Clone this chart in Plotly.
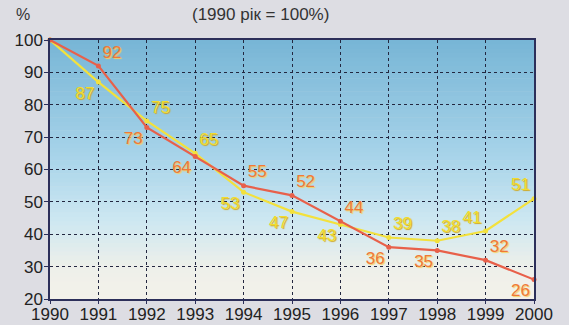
import plotly.graph_objects as go

years = list(range(1990, 2001))
series_a = [100, 92, 73, 64, 55, 52, 44, 36, 35, 32, 26]
series_b = [100, 87, 75, 65, 53, 47, 43, 39, 38, 41, 51]
y_ticks = [20, 30, 40, 50, 60, 70, 80, 90, 100]
title_text = "(1990 рік = 100%)"
unit_text = "%"

pos_a = ["top right", "top right", "bottom left", "bottom left", "top right", "top right",
         "top right", "bottom left", "bottom left", "top right", "bottom left"]
pos_b = ["bottom left", "bottom left", "top right", "top right", "bottom left", "bottom left",
         "bottom left", "top right", "top right", "top left", "top left"]

labels_a = [""] + [str(v) for v in series_a[1:]]
labels_b = [""] + [str(v) for v in series_b[1:]]

fig = go.Figure()

# gradient background bands
stops = [(0.0, (244, 242, 234)), (0.12, (238, 240, 234)), (0.3, (206, 232, 242)),
         (0.55, (168, 212, 234)), (1.0, (120, 182, 214))]
n = 60
for i in range(n):
    t = (i + 0.5) / n
    for s in range(len(stops) - 1):
        if stops[s][0] <= t <= stops[s + 1][0]:
            k = (t - stops[s][0]) / (stops[s + 1][0] - stops[s][0])
            c = tuple(int(stops[s][1][j] + (stops[s + 1][1][j] - stops[s][1][j]) * k) for j in range(3))
            break
    fig.add_shape(type="rect", xref="x domain", yref="y domain",
                  x0=0, x1=1, y0=i / n, y1=(i + 1) / n + 0.002,
                  fillcolor="rgb(%d,%d,%d)" % c, line_width=0, layer="below")

fig.add_trace(go.Scatter(
    x=years, y=series_b, mode="lines+markers+text",
    line=dict(color="#f3e13c", width=2.2),
    marker=dict(size=5, color="#f3e13c"),
    text=labels_b, textposition=pos_b,
    textfont=dict(color="#f2dc2c", size=17, family="Liberation Sans",
                  shadow="1px 1px 1px #d0a820"),
    showlegend=False, cliponaxis=False))

fig.add_trace(go.Scatter(
    x=years, y=series_a, mode="lines+markers+text",
    line=dict(color="#e8604a", width=2.2),
    marker=dict(size=5, color="#e8604a"),
    text=labels_a, textposition=pos_a,
    textfont=dict(color="#f07838", size=17, family="Liberation Sans",
                  shadow="1px 1px 1px #f6d060"),
    showlegend=False, cliponaxis=False))

axis_common = dict(showgrid=True, gridcolor="#232740", griddash="dot", gridwidth=1,
                   showline=True, linecolor="#2c2f5a", linewidth=1.5, mirror=True,
                   ticks="outside", ticklen=4, tickcolor="#2c2f5a",
                   tickfont=dict(size=17, color="#222", family="Liberation Sans"),
                   zeroline=False, automargin=False)
fig.update_xaxes(range=[1990, 2000], tickvals=years, ticktext=[str(y) for y in years],
                 **axis_common)
fig.update_yaxes(range=[20, 100], tickvals=y_ticks, **axis_common)
fig.update_xaxes(ticklen=3, ticklabelstandoff=-4)
fig.update_yaxes(ticklabelstandoff=-2)

pw, ph = 569 - 50 - 35, 325 - 40 - 26
fig.add_annotation(text=title_text, xref="paper", yref="paper",
                   x=(260 - 50) / pw, y=(325 - 26 - 15) / ph, xanchor="center", yanchor="middle",
                   showarrow=False, font=dict(size=17, color="#333", family="Liberation Sans"))
fig.add_annotation(text=unit_text, xref="paper", yref="paper",
                   x=(23 - 50) / pw, y=(325 - 26 - 15) / ph, xanchor="center", yanchor="middle",
                   showarrow=False, font=dict(size=16, color="#333", family="Liberation Sans"))

fig.update_layout(
    width=569, height=325,
    margin=dict(l=50, r=35, t=40, b=26),
    paper_bgcolor="#dddde3", plot_bgcolor="#f2f0e8",
)

fig.write_html("out.html", config={"displayModeBar": False},
               post_script="document.body.style.margin='0';document.body.style.overflow='hidden';")
